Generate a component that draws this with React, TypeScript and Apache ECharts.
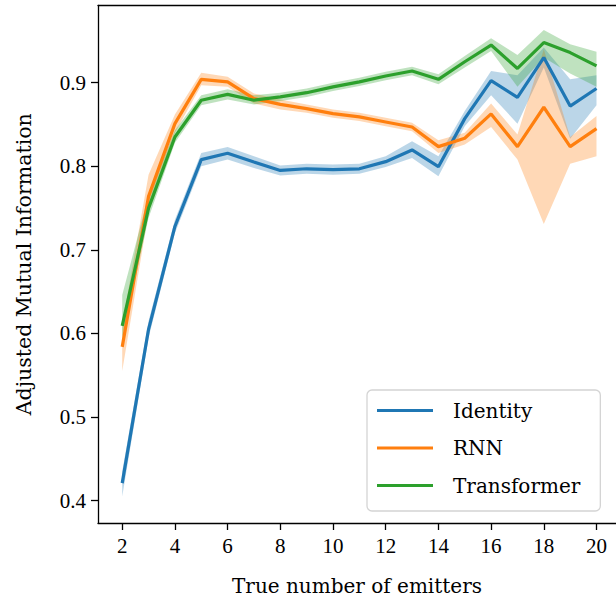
import React, { useEffect, useRef } from "react";
import * as echarts from "echarts";

const emitters = [2, 3, 4, 5, 6, 7, 8, 9, 10, 11, 12, 13, 14, 15, 16, 17, 18, 19, 20];

const identityMean = [0.421, 0.605, 0.728, 0.808, 0.8155, 0.805, 0.795, 0.797, 0.796, 0.797, 0.8055, 0.8195, 0.7995, 0.857, 0.9025, 0.8825, 0.93, 0.872, 0.893];
const identityLow = [0.405, 0.595, 0.72, 0.8, 0.808, 0.798, 0.789, 0.791, 0.79, 0.791, 0.799, 0.81, 0.788, 0.848, 0.885, 0.851, 0.918, 0.833, 0.873];
const identityHigh = [0.435, 0.615, 0.736, 0.816, 0.823, 0.812, 0.801, 0.803, 0.802, 0.803, 0.812, 0.83, 0.812, 0.866, 0.914, 0.909, 0.942, 0.904, 0.909];

const rnnMean = [0.584, 0.764, 0.851, 0.904, 0.901, 0.881, 0.874, 0.869, 0.863, 0.859, 0.853, 0.847, 0.8235, 0.8335, 0.8626, 0.8235, 0.8706, 0.8235, 0.845];
const rnnLow = [0.555, 0.745, 0.84, 0.897, 0.895, 0.875, 0.868, 0.864, 0.858, 0.854, 0.848, 0.842, 0.816, 0.826, 0.847, 0.808, 0.731, 0.803, 0.812];
const rnnHigh = [0.61, 0.79, 0.862, 0.912, 0.907, 0.887, 0.88, 0.874, 0.868, 0.864, 0.858, 0.852, 0.831, 0.84, 0.875, 0.838, 0.94, 0.835, 0.86];

const transformerMean = [0.609, 0.75, 0.835, 0.879, 0.886, 0.879, 0.883, 0.888, 0.895, 0.901, 0.908, 0.914, 0.904, 0.925, 0.945, 0.917, 0.948, 0.936, 0.92];
const transformerLow = [0.595, 0.738, 0.828, 0.873, 0.88, 0.874, 0.878, 0.883, 0.89, 0.896, 0.903, 0.909, 0.898, 0.918, 0.938, 0.895, 0.93, 0.911, 0.895];
const transformerHigh = [0.646, 0.765, 0.843, 0.885, 0.892, 0.885, 0.888, 0.893, 0.9, 0.906, 0.913, 0.919, 0.91, 0.932, 0.953, 0.933, 0.963, 0.946, 0.937];

const xTicks = [2, 4, 6, 8, 10, 12, 14, 16, 18, 20];
const yTicks = [0.4, 0.5, 0.6, 0.7, 0.8, 0.9];

const FONT = "Liberation Serif";
const TITLE_FONT = "DejaVu Serif";

type Model = { name: string; color: string; band: string; mean: number[]; low: number[]; high: number[] };

const models: Model[] = [
  { name: "Identity", color: "#1f77b4", band: "rgba(31,119,180,0.3)", mean: identityMean, low: identityLow, high: identityHigh },
  { name: "RNN", color: "#ff7f0e", band: "rgba(255,127,14,0.3)", mean: rnnMean, low: rnnLow, high: rnnHigh },
  { name: "Transformer", color: "#2ca02c", band: "rgba(44,160,44,0.3)", mean: transformerMean, low: transformerLow, high: transformerHigh },
];

export default function App() {
  const ref = useRef<HTMLDivElement>(null);
  useEffect(() => {
    const chart = echarts.init(ref.current!, null, { renderer: "svg" });
    const series: any[] = [];
    models.forEach((m) => {
      const bandData = emitters.map((x, i) => [x, m.low[i], m.high[i]]);
      series.push({
        name: m.name + " band",
        type: "custom",
        silent: true,
        z: 1,
        data: bandData,
        encode: { x: 0, y: [1, 2] },
        renderItem: (params: any, api: any) => {
          if (params.dataIndex !== 0) return null;
          const upper = bandData.map((d) => api.coord([d[0], d[2]]));
          const lower = bandData.map((d) => api.coord([d[0], d[1]])).reverse();
          return {
            type: "polygon",
            shape: { points: upper.concat(lower) },
            style: { fill: m.band, stroke: "none" },
          };
        },
      });
    });
    models.forEach((m) => {
      series.push({
        name: m.name,
        type: "line",
        data: emitters.map((x, i) => [x, m.mean[i]]),
        showSymbol: false,
        color: m.color,
        lineStyle: { color: m.color, width: 3.2 },
        z: 3,
      });
    });

    chart.setOption({
      animation: false,
      grid: { left: 98, top: 5.5, right: 0, bottom: 80 },
      xAxis: [
        {
          type: "value",
          min: 1.081,
          max: 20.74,
          name: "True number of emitters",
          nameLocation: "middle",
          nameGap: 53,
          nameTextStyle: { fontFamily: TITLE_FONT, fontSize: 20, color: "#000" },
          axisLine: { show: true, onZero: false, lineStyle: { color: "#000", width: 1.3 } },
          axisTick: { show: true, length: 7, customValues: xTicks, lineStyle: { color: "#000", width: 1.3 } },
          axisLabel: { customValues: xTicks, margin: 12, fontFamily: FONT, fontSize: 21, color: "#000" },
          splitLine: { show: false },
        },
        {
          type: "value",
          position: "top",
          min: 1.081,
          max: 20.74,
          axisLine: { show: true, onZero: false, lineStyle: { color: "#000", width: 1.3 } },
          axisTick: { show: false },
          axisLabel: { show: false },
          splitLine: { show: false },
        },
      ],
      yAxis: {
        type: "value",
        min: 0.3733,
        max: 0.9923,
        name: "Adjusted Mutual Information",
        nameLocation: "middle",
        nameGap: 64,
        nameRotate: 90,
        nameTextStyle: { fontFamily: TITLE_FONT, fontSize: 20.5, color: "#000" },
        axisLine: { show: true, onZero: false, lineStyle: { color: "#000", width: 1.3 } },
        axisTick: { show: true, length: 7, customValues: yTicks, lineStyle: { color: "#000", width: 1.3 } },
        axisLabel: {
          customValues: yTicks,
          margin: 12,
          fontFamily: FONT,
          fontSize: 21,
          color: "#000",
          formatter: (v: number) => v.toFixed(1),
        },
        splitLine: { show: false },
      },
      legend: {
        orient: "vertical",
        left: 367,
        top: 390,
        data: models.map((m) => m.name),
        icon: "rect",
        itemWidth: 56,
        itemHeight: 3,
        itemGap: 16.5,
        padding: [10, 20, 15, 10],
        backgroundColor: "#fff",
        borderColor: "#d4d4d4",
        borderWidth: 1.3,
        borderRadius: 5,
        textStyle: { fontFamily: TITLE_FONT, fontSize: 20, lineHeight: 21, color: "#000", padding: [0, 0, 0, 15] },
      },
      series,
    });
    return () => chart.dispose();
  }, []);
  return <div ref={ref} style={{ position: "absolute", left: 0, top: 0, width: 616, height: 603 }} />;
}
